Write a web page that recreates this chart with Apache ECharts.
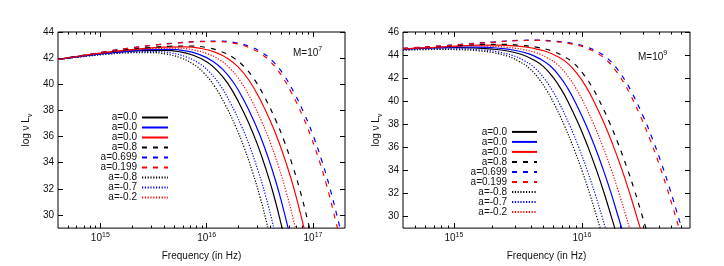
<!DOCTYPE html>
<html><head><meta charset="utf-8">
<script src="https://cdn.jsdelivr.net/npm/echarts@6/dist/echarts.min.js"></script>
<style>html,body{margin:0;padding:0;background:#fff}#c{width:724px;height:266px}</style>
</head><body><div id="c"></div>
<script>
// Each pair: [log10 of frequency in Hz, log nu L_nu]
// ---- Panel M = 10^7 ----
const m7_a00_black = [[14.602,41.90],[14.80,42.12],[15.00,42.32],[15.20,42.47],[15.40,42.58],[15.60,42.60],[15.75,42.48],[15.88,42.20],[16.00,41.72],[16.10,41.05],[16.20,40.05],[16.30,38.65],[16.40,36.95],[16.48,35.35],[16.56,33.45],[16.63,31.55],[16.71,29.00],[16.78,26.60]];
const m7_a00_blue = [[14.602,41.90],[14.854,42.19],[15.054,42.39],[15.254,42.54],[15.454,42.65],[15.654,42.67],[15.804,42.55],[15.934,42.27],[16.054,41.79],[16.154,41.12],[16.254,40.12],[16.354,38.72],[16.454,37.02],[16.534,35.42],[16.614,33.52],[16.684,31.62],[16.764,29.07],[16.834,26.67]];
const m7_a00_red = [[14.602,41.90],[14.798,42.16],[14.998,42.38],[15.198,42.58],[15.398,42.73],[15.598,42.84],[15.798,42.86],[15.948,42.74],[16.078,42.46],[16.198,41.98],[16.298,41.31],[16.398,40.31],[16.498,38.91],[16.598,37.21],[16.678,35.61],[16.758,33.71],[16.828,31.81],[16.908,29.26],[16.978,26.86]];
const m7_a08 = [[14.602,41.90],[14.848,42.23],[15.048,42.45],[15.248,42.65],[15.448,42.80],[15.648,42.91],[15.848,42.93],[15.998,42.81],[16.128,42.53],[16.248,42.05],[16.348,41.38],[16.448,40.38],[16.548,38.98],[16.648,37.28],[16.728,35.68],[16.808,33.78],[16.878,31.88],[16.958,29.33],[17.028,26.93]];
const m7_a0699 = [[14.602,41.90],[14.80,42.15],[15.123,42.60],[15.323,42.82],[15.523,43.02],[15.723,43.17],[15.923,43.28],[16.123,43.30],[16.273,43.18],[16.403,42.90],[16.523,42.42],[16.623,41.75],[16.723,40.75],[16.823,39.35],[16.923,37.65],[17.003,36.05],[17.083,34.15],[17.153,32.25],[17.233,29.70],[17.303,27.30]];
const m7_a0199 = [[14.602,41.90],[14.80,42.13],[15.10,42.57],[15.30,42.79],[15.50,42.99],[15.70,43.14],[15.90,43.25],[16.10,43.27],[16.25,43.15],[16.38,42.87],[16.50,42.39],[16.60,41.72],[16.70,40.72],[16.80,39.32],[16.90,37.62],[16.98,36.02],[17.06,34.12],[17.13,32.22],[17.21,29.67],[17.28,27.27]];
const m7_am08 = [[14.602,41.90],[14.872,42.15],[15.072,42.30],[15.272,42.41],[15.472,42.43],[15.622,42.31],[15.752,42.03],[15.872,41.55],[15.972,40.88],[16.072,39.88],[16.172,38.48],[16.272,36.78],[16.352,35.18],[16.432,33.28],[16.502,31.38],[16.582,28.83],[16.652,26.43]];
const m7_am07 = [[14.602,41.90],[14.925,42.22],[15.125,42.37],[15.325,42.48],[15.525,42.50],[15.675,42.38],[15.805,42.10],[15.925,41.62],[16.025,40.95],[16.125,39.95],[16.225,38.55],[16.325,36.85],[16.405,35.25],[16.485,33.35],[16.555,31.45],[16.635,28.90],[16.705,26.50]];
const m7_am02 = [[14.602,41.90],[14.92,42.28],[15.12,42.48],[15.32,42.63],[15.52,42.74],[15.72,42.76],[15.87,42.64],[16.00,42.36],[16.12,41.88],[16.22,41.21],[16.32,40.21],[16.42,38.81],[16.52,37.11],[16.60,35.51],[16.68,33.61],[16.75,31.71],[16.83,29.16],[16.90,26.76]];
// ---- Panel M = 10^9 ----
const m9_a00_black = [[14.602,44.52],[14.80,44.60],[15.00,44.64],[15.15,44.62],[15.30,44.52],[15.42,44.35],[15.53,44.05],[15.62,43.60],[15.70,43.00],[15.78,42.00],[15.84,41.00],[15.89,40.00],[15.975,38.00],[16.049,36.00],[16.115,34.00],[16.175,32.00],[16.230,30.00],[16.257,29.00],[16.31,27.00]];
const m9_a00_blue = [[14.602,44.52],[14.852,44.64],[15.052,44.70],[15.202,44.69],[15.352,44.59],[15.472,44.42],[15.582,44.12],[15.672,43.67],[15.752,43.07],[15.832,42.07],[15.892,41.07],[15.942,40.07],[16.027,38.07],[16.101,36.07],[16.167,34.07],[16.227,32.07],[16.282,30.07],[16.309,29.07],[16.362,27.07]];
const m9_a00_red = [[14.602,44.55],[14.85,44.68],[15.05,44.80],[15.192,44.86],[15.342,44.86],[15.492,44.78],[15.612,44.61],[15.722,44.31],[15.812,43.86],[15.892,43.26],[15.972,42.26],[16.032,41.26],[16.082,40.26],[16.167,38.26],[16.241,36.26],[16.307,34.26],[16.367,32.26],[16.422,30.26],[16.449,29.26],[16.502,27.26]];
const m9_a08 = [[14.602,44.57],[14.85,44.70],[15.05,44.82],[15.235,44.92],[15.385,44.93],[15.535,44.83],[15.655,44.66],[15.765,44.36],[15.855,43.91],[15.935,43.31],[16.015,42.31],[16.075,41.31],[16.125,40.31],[16.210,38.31],[16.284,36.31],[16.350,34.31],[16.410,32.31],[16.465,30.31],[16.492,29.31],[16.545,27.31]];
const m9_a0699 = [[14.602,44.58],[14.85,44.76],[15.10,44.97],[15.30,45.13],[15.505,45.27],[15.655,45.29],[15.805,45.19],[15.925,45.02],[16.035,44.72],[16.125,44.27],[16.205,43.67],[16.285,42.67],[16.345,41.67],[16.395,40.67],[16.480,38.67],[16.554,36.67],[16.620,34.67],[16.680,32.67],[16.735,30.67],[16.762,29.67],[16.815,27.67]];
const m9_a0199 = [[14.602,44.58],[14.85,44.75],[15.10,44.95],[15.30,45.10],[15.485,45.24],[15.635,45.27],[15.785,45.17],[15.905,45.00],[16.015,44.70],[16.105,44.25],[16.185,43.65],[16.265,42.65],[16.325,41.65],[16.375,40.65],[16.460,38.65],[16.534,36.65],[16.600,34.65],[16.660,32.65],[16.715,30.65],[16.742,29.65],[16.795,27.65]];
const m9_am08 = [[14.602,44.42],[14.890,44.49],[15.040,44.47],[15.190,44.37],[15.310,44.20],[15.420,43.90],[15.510,43.45],[15.590,42.85],[15.670,41.85],[15.730,40.85],[15.780,39.85],[15.865,37.85],[15.939,35.85],[16.005,33.85],[16.065,31.85],[16.120,29.85],[16.147,28.85],[16.20,26.85]];
const m9_am07 = [[14.602,44.45],[14.930,44.55],[15.080,44.53],[15.230,44.43],[15.350,44.26],[15.460,43.96],[15.550,43.51],[15.630,42.91],[15.710,41.91],[15.770,40.91],[15.820,39.91],[15.905,37.91],[15.979,35.91],[16.045,33.91],[16.105,31.91],[16.160,29.91],[16.187,28.91],[16.240,26.91]];
const m9_am02 = [[14.602,44.53],[14.912,44.68],[15.112,44.79],[15.262,44.77],[15.412,44.67],[15.532,44.50],[15.642,44.20],[15.732,43.75],[15.812,43.15],[15.892,42.15],[15.952,41.15],[16.002,40.15],[16.087,38.15],[16.161,36.15],[16.227,34.15],[16.287,32.15],[16.342,30.15],[16.369,29.15],[16.422,27.15]];

// legend names (zero-width spaces keep the three "a=0.0" entries distinct)
const seriesNames = ['a=0.0', 'a=0.0\u200b', 'a=0.0\u200b\u200b', 'a=0.8', 'a=0.699', 'a=0.199', 'a=-0.8', 'a=-0.7', 'a=-0.2'];
const m7Data = [m7_a00_black, m7_a00_blue, m7_a00_red, m7_a08, m7_a0699, m7_a0199, m7_am08, m7_am07, m7_am02];
const m9Data = [m9_a00_black, m9_a00_blue, m9_a00_red, m9_a08, m9_a0699, m9_a0199, m9_am08, m9_am07, m9_am02];
const xTickDecades7 = [15, 16, 17];
const xTickDecades9 = [15, 16];
const yTicks7 = [30, 32, 34, 36, 38, 40, 42, 44];
const yTicks9 = [30, 32, 34, 36, 38, 40, 42, 44, 46];
const massLabels = ['M=10{sup|7}', 'M=10{sup|9}'];

const FONT = '"Liberation Sans", Arial, sans-serif';
const TXT = '#111';
const DASH = [5, 6];
const DOT = [1.2, 1.6];
const lineStyles = [
  {color: '#000000', type: 'solid'}, {color: '#0000ff', type: 'solid'}, {color: '#ff0000', type: 'solid'},
  {color: '#000000', type: DASH}, {color: '#0000ff', type: DASH}, {color: '#ff0000', type: DASH},
  {color: '#000000', type: DOT}, {color: '#0000ff', type: DOT}, {color: '#ff0000', type: DOT}
];

const panels = [
  {xMin: Math.log10(4e14), xMax: Math.log10(2e17), yMin: 29, yMax: 44, major: xTickDecades7, yTicks: yTicks7,
   grid: {left: 58, top: 32, width: 287, height: 200}, data: m7Data,
   legend: {right: 555, top: 112.5, itemWidth: 26}, yNameGap: 24, mass: {x: 293, y: 53.5}},
  {xMin: Math.log10(4e14), xMax: Math.log10(7e16), yMin: 29, yMax: 46, major: xTickDecades9, yTicks: yTicks9,
   grid: {left: 403, top: 32, width: 287, height: 200}, data: m9Data,
   legend: {right: 186, top: 126.9, itemWidth: 25}, yNameGap: 19, mass: {x: 638, y: 57}}
];

function minorTicks(lo, hi) {
  const out = [];
  for (let n = 14; n <= 17; n++) for (let k = 2; k <= 9; k++) {
    const v = n + Math.log10(k);
    if (v > lo + 1e-6 && v < hi - 1e-6) out.push(v);
  }
  return out;
}

const xAxes = [], yAxes = [], grids = [], series = [], legends = [], graphics = [];
const tickLine = {color: '#000', width: 1};
panels.forEach((p, gi) => {
  grids.push(Object.assign({show: true, borderColor: '#000', borderWidth: 1, containLabel: false}, p.grid));
  const base = {gridIndex: gi, type: 'value', min: p.xMin, max: p.xMax, splitLine: {show: false},
                axisLine: {show: false, onZero: false}};
  const minors = minorTicks(p.xMin, p.xMax);
  xAxes.push(Object.assign({}, base, {position: 'bottom',
    axisTick: {show: true, inside: true, length: 5, customValues: p.major, lineStyle: tickLine},
    axisLabel: {show: true, customValues: p.major, margin: 3, fontFamily: FONT, fontSize: 10, color: TXT, lineHeight: 15,
      formatter: v => '10{sup|' + v + '}',
      rich: {sup: {fontSize: 7, fontFamily: FONT, color: TXT, verticalAlign: 'top'}}},
    name: 'Frequency (in Hz)', nameLocation: 'middle', nameGap: 18,
    nameTextStyle: {fontFamily: FONT, fontSize: 10, color: TXT}}));
  xAxes.push(Object.assign({}, base, {position: 'bottom',
    axisTick: {show: true, inside: true, length: 2.5, customValues: minors, lineStyle: tickLine},
    axisLabel: {show: false}}));
  xAxes.push(Object.assign({}, base, {position: 'top',
    axisTick: {show: true, inside: true, length: 5, customValues: p.major, lineStyle: tickLine},
    axisLabel: {show: false}}));
  xAxes.push(Object.assign({}, base, {position: 'top',
    axisTick: {show: true, inside: true, length: 2.5, customValues: minors, lineStyle: tickLine},
    axisLabel: {show: false}}));
  const ybase = {gridIndex: gi, type: 'value', min: p.yMin, max: p.yMax, splitLine: {show: false},
                 axisLine: {show: false, onZero: false}};
  yAxes.push(Object.assign({}, ybase, {position: 'left',
    axisTick: {show: true, inside: true, length: 5, customValues: p.yTicks, lineStyle: tickLine},
    axisLabel: {show: true, customValues: p.yTicks, margin: 4, fontFamily: FONT, fontSize: 10, color: TXT},
    name: 'log ν L{sub|ν}', nameLocation: 'middle', nameGap: p.yNameGap, nameRotate: 90,
    nameTextStyle: {fontFamily: FONT, fontSize: 10, color: TXT, lineHeight: 15,
      rich: {sub: {fontSize: 7, fontFamily: FONT, color: TXT, verticalAlign: 'bottom'}}}}));
  yAxes.push(Object.assign({}, ybase, {position: 'right',
    axisTick: {show: true, inside: true, length: 5, customValues: p.yTicks, lineStyle: tickLine},
    axisLabel: {show: false}}));
  p.data.forEach((d, si) => {
    series.push({type: 'line', name: seriesNames[si], xAxisIndex: gi * 4, yAxisIndex: gi * 2,
      data: d, showSymbol: false, symbol: 'none', smooth: 0.45, clip: true,
      lineStyle: Object.assign({width: 1.2}, lineStyles[si]), itemStyle: {color: lineStyles[si].color},
      emphasis: {disabled: true}, silent: true});
  });
  legends.push({data: seriesNames, orient: 'vertical', align: 'right', right: p.legend.right, top: p.legend.top,
    itemWidth: p.legend.itemWidth, itemHeight: 9.6, itemGap: 0, padding: 0, selectedMode: false,
    itemStyle: {opacity: 0, borderWidth: 0},
    textStyle: {fontFamily: FONT, fontSize: 10, color: TXT, lineHeight: 9.6}});
  graphics.push({type: 'text', x: p.mass.x, y: p.mass.y, style: {text: massLabels[gi], fontFamily: FONT, fontSize: 10,
    fill: TXT, lineHeight: 15, verticalAlign: 'middle', align: 'left',
    rich: {sup: {fontSize: 7, fontFamily: FONT, fill: TXT, verticalAlign: 'top'}}}});
});

const chart = echarts.init(document.getElementById('c'), null, {renderer: 'canvas'});
chart.setOption({animation: false, backgroundColor: '#fff', grid: grids, xAxis: xAxes, yAxis: yAxes,
  series: series, legend: legends, graphic: graphics});
</script></body></html>
